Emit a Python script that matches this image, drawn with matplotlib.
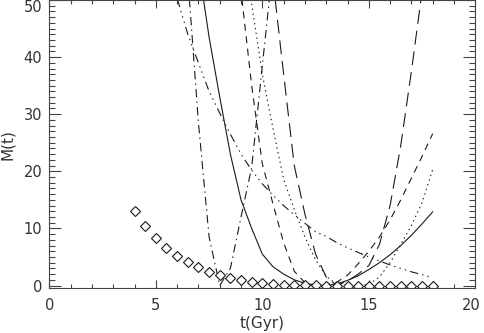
import matplotlib
matplotlib.use("Agg")
import matplotlib.pyplot as plt
import matplotlib.transforms as mtransforms
from matplotlib.ticker import MultipleLocator

# time grid (Gyr), every 0.5 from 4 to 18
t = [4.0, 4.5, 5.0, 5.5, 6.0, 6.5, 7.0, 7.5, 8.0, 8.5, 9.0, 9.5, 10.0, 10.5,
     11.0, 11.5, 12.0, 12.5, 13.0, 13.5, 14.0, 14.5, 15.0, 15.5, 16.0, 16.5,
     17.0, 17.5, 18.0]

# values (those above 50 are clipped in the figure)
m_diamond = [13.0, 10.5, 8.4, 6.65, 5.25, 4.15, 3.2, 2.45, 1.8, 1.4, 1.05, 0.7,
             0.4, 0.25, 0.15, 0.1, 0.05, 0.02, 0.0, 0.0, 0.0, 0.0, 0.0, 0.0,
             0.0, 0.0, 0.0, 0.0, 0.0]
m_solid = [160, 135, 113, 95, 80, 67, 56, 43.5, 33, 23, 15, 10, 5.5, 3.3,
           2.0, 1.0, 0.4, 0.05, 0.0, 0.3, 0.9, 1.7, 2.8, 4.0, 5.4, 7.0,
           8.8, 10.8, 12.9]
m_dashdot = [255, 205, 160, 120, 85, 54, 28.5, 8.5, 0.0, 3.0, 12.0, 20.7,
             38.5, 56, 80, 105, 130, 160, 190, 220, 250, 280, 310, 340,
             370, 400, 430, 460, 490]
m_dash3dot = [84, 74, 65, 57, 50.3, 44, 39, 34, 30.2, 26.5, 23, 20.2, 17.8,
              15.8, 14.0, 12.4, 10.9, 9.4, 8.6, 7.5, 6.6, 5.8, 5.0, 4.3, 3.6,
              3.0, 2.4, 1.9, 1.4]
m_dash = [250, 220, 190, 165, 145, 125, 108, 94, 82, 68, 51.5, 35, 21.3,
          14.3, 7.5, 2.5, 0.5, 0.0, 0.1, 0.6, 1.8, 3.8, 6.0, 8.5, 11.5,
          15.0, 18.8, 22.6, 26.6]
m_longdash = [300, 260, 225, 195, 170, 148, 128, 110, 95, 82, 72, 63, 60,
              53.5, 37, 21, 12.5, 5.5, 1.5, 0.0, 0.8, 2.0, 3.5, 7.2, 14,
              24.5, 37.5, 51.5, 66]
m_dotted = [200, 170, 145, 122, 110, 100, 90, 80, 72, 67, 62, 49.3, 37,
            27.5, 18.6, 13.3, 8.5, 4.5, 1.6, 0.2, 0.0, 0.0, 0.2, 1.5, 4.0,
            7.2, 10.5, 14.5, 20.3]

x_ticks = [0, 5, 10, 15, 20]
y_ticks = [0, 10, 20, 30, 40, 50]

plt.rcParams["lines.scale_dashes"] = False
plt.rcParams["font.family"] = "DejaVu Sans"

fig = plt.figure(figsize=(4.84, 3.33), dpi=100)
ax = fig.add_axes([0.102, 0.134, 0.88, 0.866])

ink = "#1a1a1a"
lw = 0.8
ax.plot(t, m_solid, color=ink, lw=lw)
ax.plot(t, m_dashdot, color=ink, lw=lw, dashes=(6, 3, 1, 3))
ax.plot(t, m_dash3dot, color=ink, lw=lw, dashes=(6, 3, 1, 3, 1, 3, 1, 3))
ax.plot(t, m_dash, color=ink, lw=lw, dashes=(5, 4))
ax.plot(t, m_longdash, color=ink, lw=lw, dashes=(10, 5))
ax.plot(t, m_dotted, color=ink, lw=lw, dashes=(1, 2.5))
ax.plot(t, m_diamond, ls="none", marker="D", ms=5, mfc="white",
        mec=ink, mew=0.8)

ax.set_xlim(0, 20)
ax.set_ylim(-0.5, 50)
ax.set_xticks(x_ticks)
ax.set_yticks(y_ticks)
ax.xaxis.set_minor_locator(MultipleLocator(1))
ax.yaxis.set_minor_locator(MultipleLocator(1))
ax.tick_params(which="both", direction="in", top=True, right=True,
               color="#444444", labelcolor="#333333", labelsize=10.5, width=0.8)
ax.tick_params(axis="x", which="major", length=6, pad=7)
ax.tick_params(axis="x", which="minor", length=3)
ax.tick_params(axis="y", which="major", length=8.5, pad=5)
ax.tick_params(axis="y", which="minor", length=4.3)
for s in ax.spines.values():
    s.set_color("#444444")
    s.set_linewidth(0.8)

ax.set_xlabel("t(Gyr)", fontsize=11, color="#333333", labelpad=2)
ax.set_ylabel("M(t)", fontsize=11, color="#333333", labelpad=6)

# keep the end labels inside the picture, as in the reference
ax.yaxis.get_major_ticks()[-1].label1.set_verticalalignment("top")
lab20 = ax.xaxis.get_major_ticks()[-1].label1
lab20.set_transform(lab20.get_transform() +
                    mtransforms.ScaledTranslation(-3 / 72, 0, fig.dpi_scale_trans))

fig.savefig("out.png", dpi=100)
